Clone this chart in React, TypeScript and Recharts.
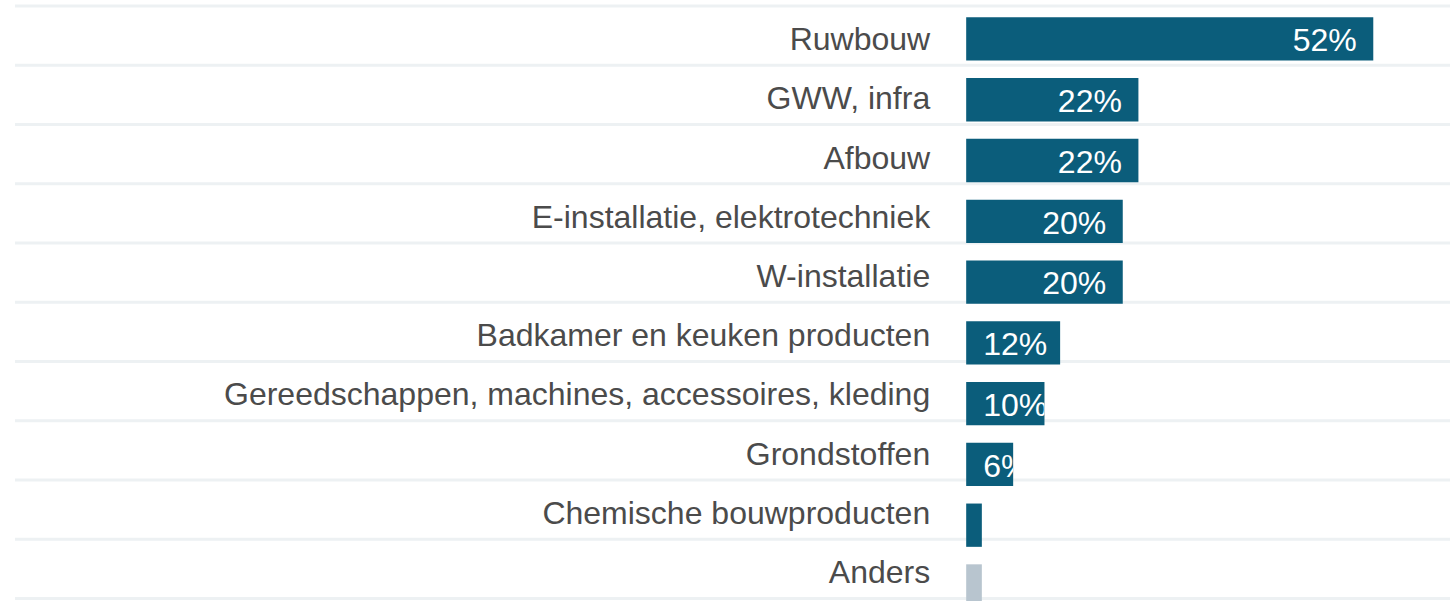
import { BarChart, Bar, XAxis, YAxis, CartesianGrid, Cell, LabelList } from "recharts"

// Share of respondents per product group (%)
const categories = [
  "Ruwbouw",
  "GWW, infra",
  "Afbouw",
  "E-installatie, elektrotechniek",
  "W-installatie",
  "Badkamer en keuken producten",
  "Gereedschappen, machines, accessoires, kleding",
  "Grondstoffen",
  "Chemische bouwproducten",
  "Anders",
]
const shares = [52, 22, 22, 20, 20, 12, 10, 6, 2, 2]
const mutedCategories = ["Anders"]
const gridRows = [0, 1, 2, 3, 4, 5, 6, 7, 8, 9, 10]

const data = categories.map((name, i) => ({ name, value: shares[i] }))

const WIDTH = 1450
const HEIGHT = 640
const LEFT = 15
const AXIS_W = 10
const X_DOMAIN: [number, number] = [-121.5, 61.8]
const FONT = "'Liberation Sans', Arial, sans-serif"
const BAR_COLOR = "#0b5d7b"
const MUTED_COLOR = "#b8c5cf"
const GRID_TOP = 6
const GRID_STEP = 59.25

// x of the value 0 in the plot, labels sit 36px to the left of it
const zeroX = LEFT + ((WIDTH - LEFT) * -X_DOMAIN[0]) / (X_DOMAIN[1] - X_DOMAIN[0])
const labelX = zeroX - 36

let ctx: CanvasRenderingContext2D | null = null
const measure = (text: string) => {
  if (!ctx) ctx = document.createElement("canvas").getContext("2d")
  if (!ctx) return text.length * 18
  ctx.font = `32px ${FONT}`
  return ctx.measureText(text).width
}

const CategoryTick = (props: any) => {
  const { y, payload } = props
  return (
    <text x={labelX} y={y} dy="0.355em" textAnchor="end" fill="#4b4b4b" fontSize={32} fontFamily={FONT}>
      {payload.value}
    </text>
  )
}

// value label inside the bar, right aligned but never before the bar start, clipped by the bar
const ValueLabel = (props: any) => {
  const { x, y, width, height, value, index } = props
  const text = `${value}%`
  const start = Math.max(x + 17, x + width - 16.5 - measure(text))
  if (start >= x + width) return null // no room at all, nothing visible
  const id = `bar-clip-${index}`
  return (
    <g>
      <defs>
        <clipPath id={id}>
          <rect x={x} y={y} width={width} height={height} />
        </clipPath>
      </defs>
      <text
        x={start}
        y={y + height / 2 + 1}
        dy="0.355em"
        fill="#ffffff"
        fontSize={32}
        fontFamily={FONT}
        clipPath={`url(#${id})`}
      >
        {text}
      </text>
    </g>
  )
}

export default function App() {
  return (
    <div style={{ position: "absolute", left: 0, top: 0, width: WIDTH, height: 601, overflow: "hidden", background: "#fff" }}>
      <BarChart
        width={WIDTH}
        height={HEIGHT}
        data={data}
        layout="vertical"
        margin={{ top: 0, right: 0, bottom: 0, left: LEFT - AXIS_W }}
      >
        <CartesianGrid
          vertical={false}
          stroke="#edf1f3"
          strokeWidth={3}
          horizontalCoordinatesGenerator={({ offset }: any) => gridRows.map((r) => offset.top + GRID_TOP + r * GRID_STEP)}
        />
        <XAxis type="number" domain={X_DOMAIN} allowDataOverflow hide />
        <YAxis
          yAxisId="labels"
          type="category"
          dataKey="name"
          width={AXIS_W}
          tickLine={false}
          axisLine={false}
          interval={0}
          padding={{ top: 9.2, bottom: HEIGHT - 601.2 }}
          tick={CategoryTick}
        />
        <YAxis
          yAxisId="bars"
          type="category"
          dataKey="name"
          padding={{ top: 8.3, bottom: HEIGHT - 616.1 }}
          hide
        />
        {/* invisible series so the label axis gets its categories */}
        <Bar dataKey="value" yAxisId="labels" fill="transparent" isAnimationActive={false} />
        <Bar dataKey="value" yAxisId="bars" barSize={43.3} isAnimationActive={false}>
          {data.map((entry, index) => (
            <Cell key={`cell-${index}`} fill={mutedCategories.includes(entry.name) ? MUTED_COLOR : BAR_COLOR} />
          ))}
          <LabelList dataKey="value" content={<ValueLabel />} />
        </Bar>
      </BarChart>
    </div>
  )
}
